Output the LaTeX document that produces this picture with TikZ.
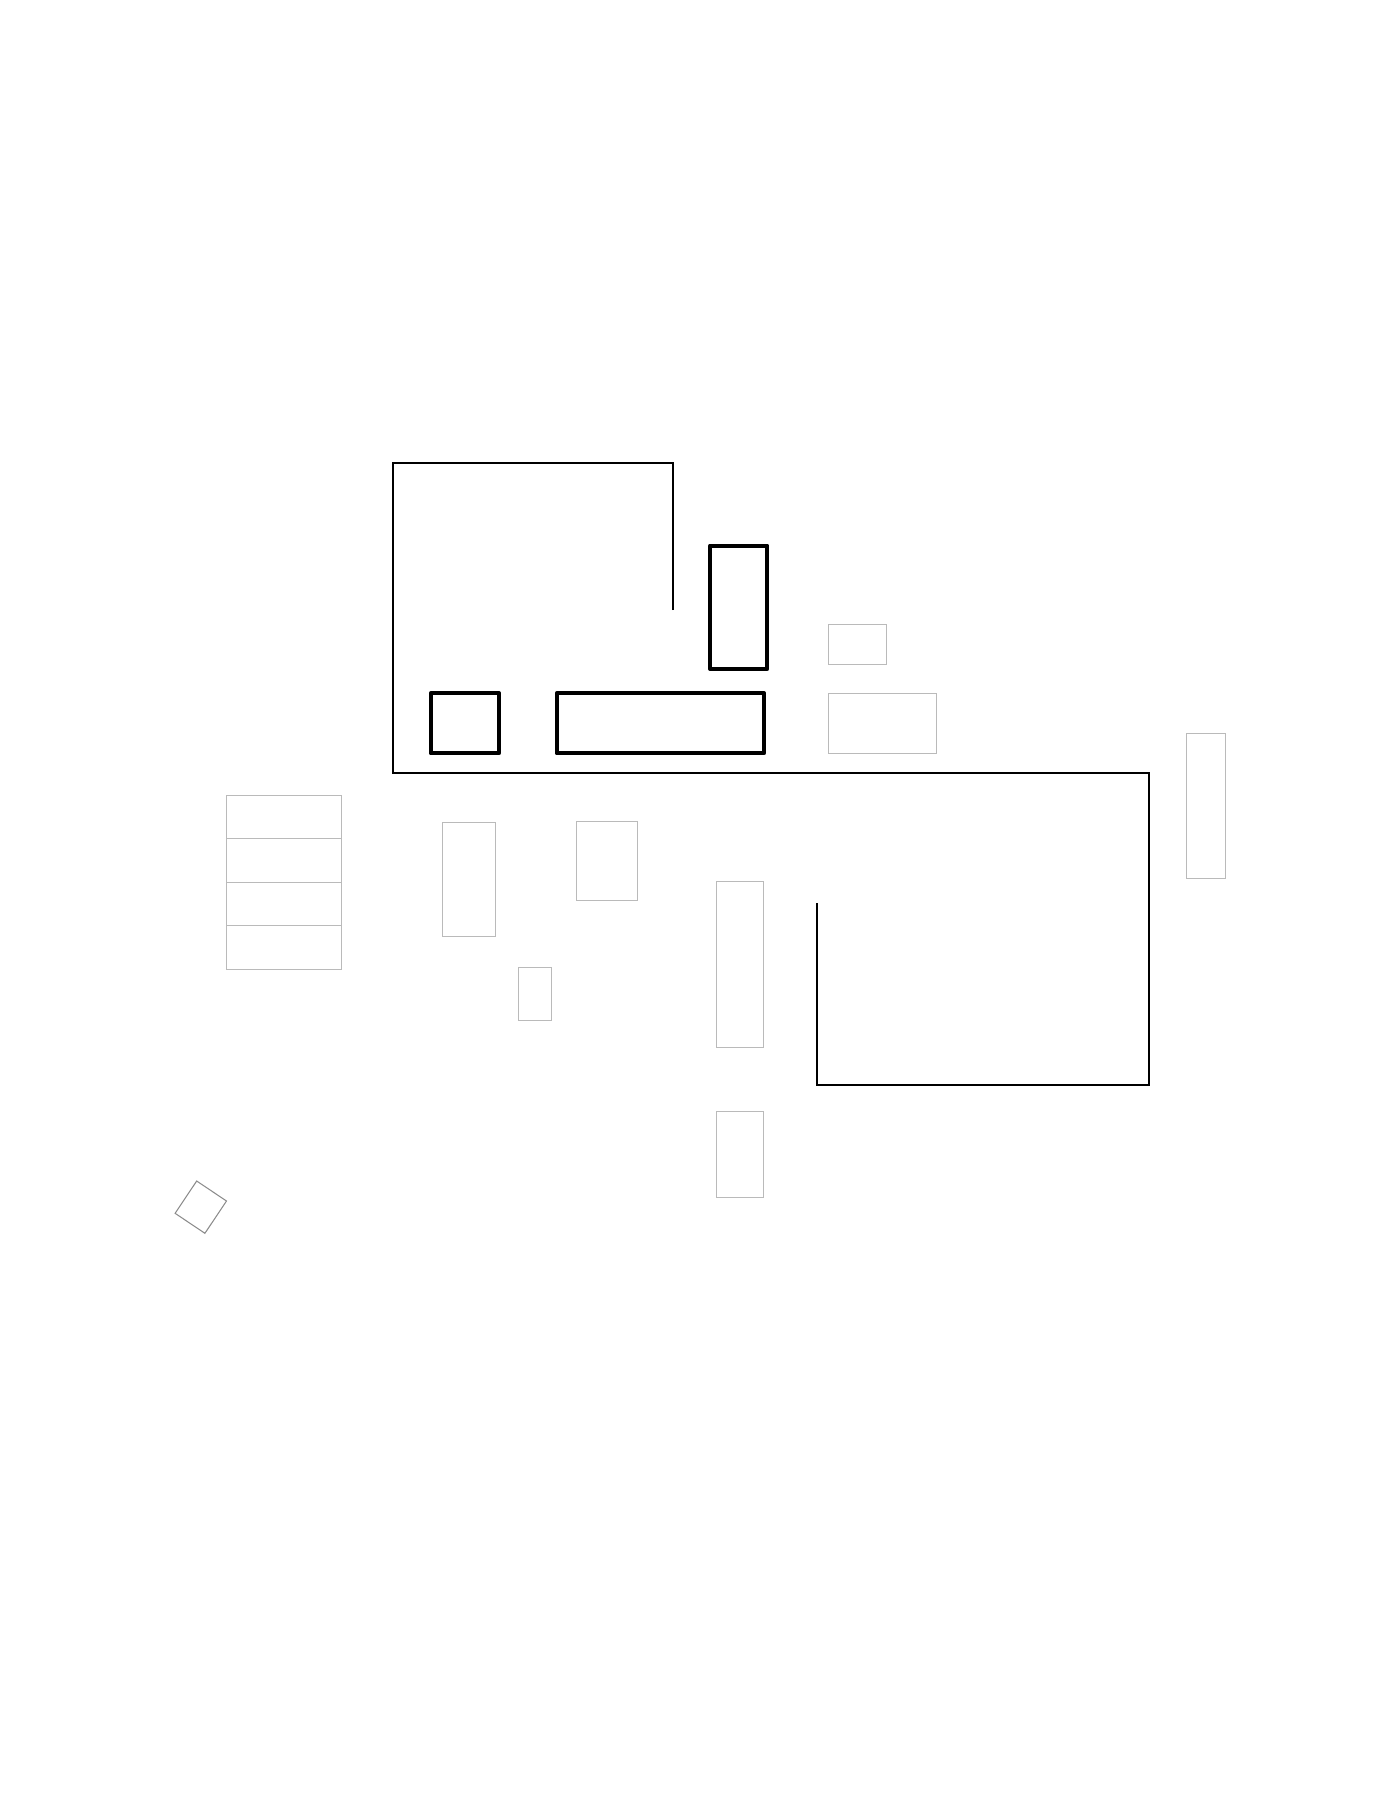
\documentclass[tikz,border=0pt]{standalone}
\begin{document}
\begin{tikzpicture}[x=0.01cm,y=-0.01cm]
\tikzstyle{wall}=[draw=black,line width=0.6pt];
\tikzstyle{unit}=[draw=black,line width=1.15pt,line join=round];
\tikzstyle{item}=[draw=black!27,line width=0.3pt];
\tikzstyle{tilted}=[draw=black!45,line width=0.3pt];
\useasboundingbox (0,0) rectangle (1400,1800);
% walls
\draw[wall] (672.7,610) -- (672.7,462.7) -- (392.7,462.7) -- (392.7,773.3)
  -- (1149,773.3) -- (1149,1085) -- (817.3,1085) -- (817.3,903.3);
% heavy pieces
\draw[unit] (710,545.7) rectangle (767.3,669);
\draw[unit] (430.7,693.3) rectangle (499,753.3);
\draw[unit] (556.7,693.3) rectangle (764,753.3);
% light pieces
\draw[item] (828.3,624.3) rectangle (886.7,664.3);
\draw[item] (828.3,693.3) rectangle (936.7,753.3);
\draw[item] (1186.3,733.3) rectangle (1225.7,878.3);
\foreach \y in {795.3,838.8,882.3,925.8}
  \draw[item] (226.5,\y) rectangle +(114.7,43.5);
\draw[item] (442.4,822.3) rectangle (495.5,936.3);
\draw[item] (576.3,821.3) rectangle (637.6,900.3);
\draw[item] (518.4,967.3) rectangle (551.4,1020.3);
\draw[item] (716.3,881.3) rectangle (763.7,1047.3);
\draw[item] (716.3,1111.3) rectangle (763.7,1197.3);
\draw[tilted] (196.7,1181) -- (226.5,1201) -- (204.9,1233.3) -- (175.1,1213.3) -- cycle;
\end{tikzpicture}
\end{document}
